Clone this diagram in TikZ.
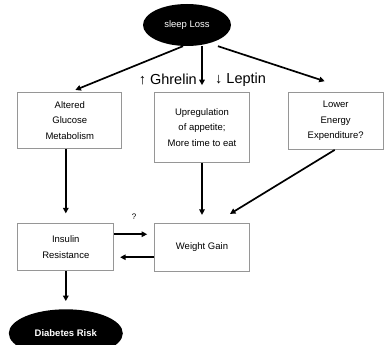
\documentclass[tikz,border=0pt]{standalone}
\usepackage{fontspec}
\setmainfont{Liberation Sans}
\usepackage{xcolor}
\usepackage{tikz}
\usetikzlibrary{arrows.meta, positioning, shapes.geometric}
\definecolor{boxgray}{RGB}{150,150,150}

\begin{document}
\begin{tikzpicture}[
    box/.style={
        rectangle,
        draw=boxgray,
        line width=0.7pt,
        minimum width=95pt,
        align=center,
        inner sep=2pt,
        font=\fontsize{9.5}{15.5}\selectfont
    },
    blob/.style={
        ellipse,
        fill=black,
        text=white,
        inner sep=0pt,
        font=\fontsize{9.5}{11}\selectfont
    },
    arrow/.style={-{Triangle[length=5.5pt,width=5.5pt]}, line width=1.7pt}
]
\useasboundingbox (0,0) rectangle (384pt,-345pt);

\node[blob, minimum width=88pt, minimum height=42pt] (sleep) at (187pt,-25pt) {sleep Loss};
\node[box, minimum height=70pt, below=46pt of sleep, xshift=15pt] (upreg) {Upregulation\\of appetite;\\More time to eat};
\node[box, minimum width=104pt, minimum height=56pt, left=32pt of upreg.north west, anchor=north east] (glucose) {Altered\\Glucose\\Metabolism};
\node[box, minimum height=57pt, right=38pt of upreg.north east, anchor=north west] (energy) {Lower\\Energy\\Expenditure?};
\node[box, minimum height=48pt, below=60pt of upreg] (weight) {Weight Gain};
\node[box, minimum width=96pt, minimum height=47pt, left=40pt of weight] (insulin) {Insulin\\Resistance};
\node[blob, minimum width=114pt, minimum height=48pt, below=38pt of insulin, font=\fontsize{9.5}{11}\selectfont\bfseries] (diabetes) {Diabetes Risk};

\draw[arrow, shorten >=6pt] ([xshift=-4pt]sleep.south) -- (glucose.north);
\draw[arrow] (sleep.south -| upreg.north) -- node[pos=0.85, left=1pt, font=\fontsize{14.5}{16}\selectfont]{↑ Ghrelin} node[pos=0.85, right=9pt, font=\fontsize{14.5}{16}\selectfont]{↓ Leptin} ([yshift=7pt]upreg.north);
\draw[arrow] ([xshift=31pt]sleep.south) -- ([xshift=-11pt,yshift=11pt]energy.north);
\draw[arrow, shorten >=10pt] ([xshift=-4pt]glucose.south) -- ([xshift=-4pt]glucose.south |- insulin.north);
\draw[arrow, shorten >=8pt] (upreg.south) -- (upreg.south |- weight.north);
\draw[arrow] ([xshift=-1pt]energy.south) -- ([xshift=28pt,yshift=9pt]weight.north);
\draw[arrow, shorten >=7pt] ([yshift=13pt]insulin.east) -- node[above=11pt, pos=0.5, font=\fontsize{8}{9}\selectfont]{?} ([yshift=13pt]weight.west);
\draw[arrow, shorten >=6pt] ([yshift=-10pt]weight.west) -- ([yshift=-10pt]insulin.east);
\draw[arrow, shorten >=8pt] (insulin.south) -- (diabetes.north);

\end{tikzpicture}
\end{document}
